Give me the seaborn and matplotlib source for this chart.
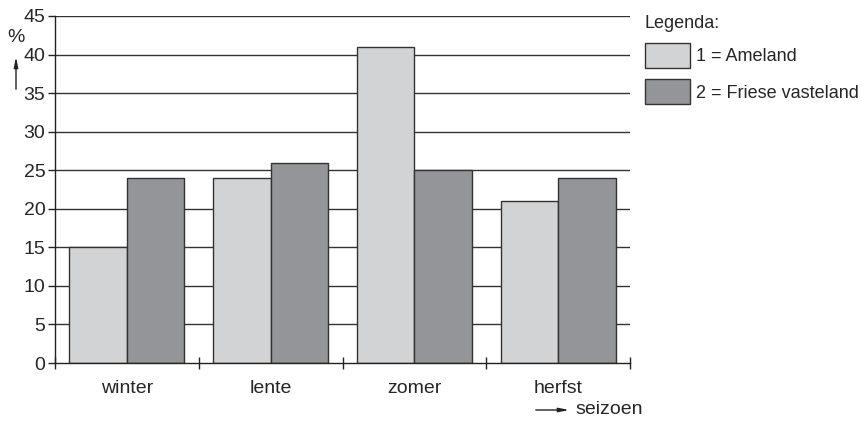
import pandas as pd
import seaborn as sns
import matplotlib.pyplot as plt
from matplotlib.ticker import FixedLocator

# Data
seasons = ["winter", "lente", "zomer", "herfst"]
ameland = [15, 24, 41, 21]
vasteland = [24, 26, 25, 24]
series_names = ["1 = Ameland", "2 = Friese vasteland"]
y_ticks = [0, 5, 10, 15, 20, 25, 30, 35, 40, 45]

df = pd.DataFrame({
    "seizoen": seasons * 2,
    "pct": ameland + vasteland,
    "gebied": [series_names[0]] * 4 + [series_names[1]] * 4,
})

sns.set_style("white")
plt.rcParams["font.family"] = ["Liberation Sans", "DejaVu Sans"]

fig = plt.figure(figsize=(8.63, 4.21), dpi=100)
ax = fig.add_axes([55 / 863, 1 - 363 / 421, 575 / 863, 347 / 421])

sns.barplot(data=df, x="seizoen", y="pct", hue="gebied", order=seasons,
            hue_order=series_names, palette=["#d2d3d5", "#939598"],
            width=0.8, edgecolor="#333333", linewidth=1, saturation=1,
            ax=ax, zorder=3)

ax.set_xlim(-0.5, 3.5)
ax.set_ylim(0, 45)
ax.set_yticks(y_ticks)
for y in y_ticks[1:]:
    ax.axhline(y, color="#333333", lw=1, zorder=1)

ax.xaxis.set_minor_locator(FixedLocator([-0.5, 0.5, 1.5, 2.5, 3.5]))
ax.tick_params(axis="x", which="major", length=0, labelsize=14, pad=12)
ax.tick_params(axis="x", which="minor", length=8, width=1, direction="inout",
               color="#222222", bottom=True)
ax.tick_params(axis="y", length=5, width=1, color="#222222", left=True,
               labelsize=14, pad=2)

for side in ["top", "right"]:
    ax.spines[side].set_visible(False)
for side in ["left", "bottom"]:
    ax.spines[side].set_color("#222222")
    ax.spines[side].set_linewidth(1)
    ax.spines[side].set_zorder(4)

ax.set_xlabel("")
ax.set_ylabel("")

# axis labels with arrows
arrow = dict(arrowstyle="-|>,head_width=0.12,head_length=0.6", color="#222222", lw=1)
fig.text(16 / 863, 1 - 37 / 421, "%", fontsize=14, ha="center", va="center")
ax.annotate("", xy=(16 / 863, 1 - 54 / 421), xytext=(16 / 863, 1 - 92 / 421),
            xycoords="figure fraction", arrowprops=arrow, annotation_clip=False)
ax.annotate("", xy=(572 / 863, 1 - 410 / 421), xytext=(533 / 863, 1 - 410 / 421),
            xycoords="figure fraction", arrowprops=arrow, annotation_clip=False)
fig.text(575 / 863, 1 - 410 / 421, "seizoen", fontsize=14, ha="left", va="center")

handles, labels = ax.get_legend_handles_labels()
leg = ax.legend(handles, labels, title="Legenda:", loc="upper left",
                bbox_to_anchor=(641 / 863, 1 - 11 / 421),
                bbox_transform=fig.transFigure, frameon=False, fontsize=13,
                title_fontsize=13, handlelength=2.5, handleheight=1.7,
                handletextpad=0.35, labelspacing=0.65, borderaxespad=0,
                borderpad=0.2)
leg._legend_box.align = "left"

fig.savefig("out.png", dpi=100)
